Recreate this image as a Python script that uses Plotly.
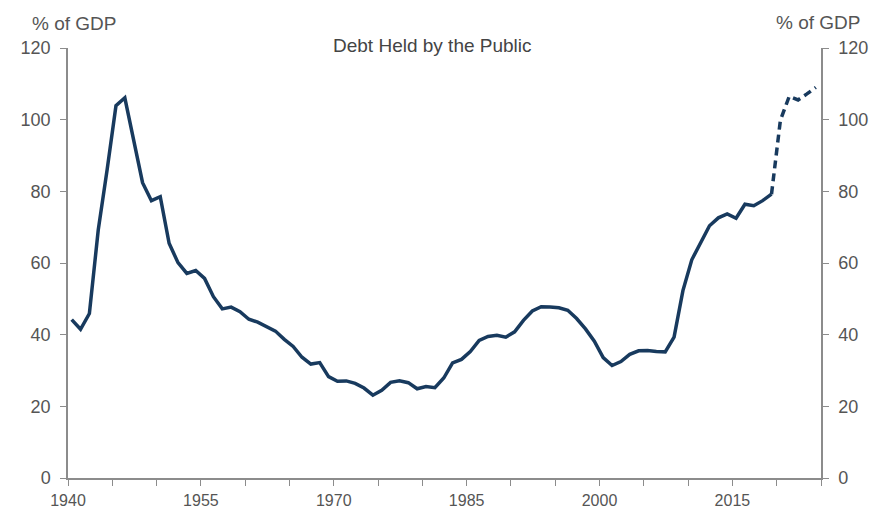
import plotly.graph_objects as go

# Historical debt held by the public, % of GDP (fiscal years)
hist_years = list(range(1940, 2020))
hist_values = [
    44.2, 41.5, 45.9, 69.2, 86.0, 103.9, 106.1, 93.9, 82.4, 77.4,
    78.5, 65.5, 60.1, 57.1, 57.9, 55.7, 50.6, 47.2, 47.7, 46.4,
    44.3, 43.5, 42.3, 41.0, 38.7, 36.7, 33.7, 31.8, 32.2, 28.3,
    27.0, 27.1, 26.4, 25.1, 23.1, 24.5, 26.7, 27.1, 26.6, 24.9,
    25.5, 25.2, 27.9, 32.1, 33.1, 35.3, 38.4, 39.5, 39.8, 39.3,
    40.8, 44.0, 46.6, 47.8, 47.7, 47.5, 46.8, 44.5, 41.6, 38.2,
    33.6, 31.4, 32.5, 34.5, 35.5, 35.6, 35.3, 35.2, 39.3, 52.3,
    60.9, 65.9, 70.4, 72.6, 73.7, 72.5, 76.4, 76.0, 77.4, 79.2,
]
# Projection (dashed)
proj_years = [2019, 2020, 2021, 2022, 2023, 2024]
proj_values = [79.2, 99.8, 106.5, 105.5, 107.2, 109.0]

y_ticks = [0, 20, 40, 60, 80, 100, 120]

LINE = "#183a5e"
AXIS = "#8c8c8c"
TXT = "#555555"
FONT = "Liberation Sans, Arial, sans-serif"


def to_dates(years):
    return [f"{y}-06-01" for y in years]


fig = go.Figure()
fig.add_trace(go.Scatter(
    x=to_dates(hist_years), y=hist_values, mode="lines",
    line=dict(color=LINE, width=3.5), showlegend=False, hoverinfo="skip",
))
fig.add_trace(go.Scatter(
    x=to_dates(proj_years), y=proj_values, mode="lines",
    line=dict(color=LINE, width=3.5, dash="8px,5px"), showlegend=False,
    hoverinfo="skip",
))
fig.add_trace(go.Scatter(
    x=to_dates(proj_years), y=proj_values, mode="lines", yaxis="y2",
    line=dict(color="rgba(0,0,0,0)", width=0), showlegend=False,
    hoverinfo="skip",
))

yaxis_common = dict(
    range=[0, 120], tickvals=y_ticks, showgrid=False, zeroline=False,
    showline=True, linecolor=AXIS, linewidth=1.5,
    ticks="outside", ticklen=6, tickcolor=AXIS, tickwidth=1.2,
    tickfont=dict(family=FONT, size=18, color=TXT), ticklabelstandoff=6,
    automargin=False, fixedrange=True,
)

fig.update_layout(
    width=878, height=511,
    margin=dict(l=60, r=65, t=40, b=41, autoexpand=False),
    paper_bgcolor="white", plot_bgcolor="white",
    xaxis=dict(
        type="date", range=["1940-01-01", "2025-01-01"],
        tick0="1940-01-01", dtick="M180", tickformat="%Y",
        showgrid=False, zeroline=False, showline=True,
        linecolor=AXIS, linewidth=1.5,
        ticks="outside", ticklen=6, tickcolor=AXIS, tickwidth=1.2,
        minor=dict(dtick="M60", tick0="1940-01-01", ticks="outside",
                   ticklen=6, tickcolor=AXIS, tickwidth=1.2, showgrid=False),
        tickfont=dict(family=FONT, size=16, color=TXT), ticklabelstandoff=1,
        automargin=False, fixedrange=True,
    ),
    yaxis=dict(side="left", **yaxis_common),
    yaxis2=dict(side="right", overlaying="y", anchor="x", **yaxis_common),
    annotations=[
        dict(text="Debt Held by the Public", xref="paper", yref="paper",
             x=0.4847, y=1.005, xanchor="center", yanchor="middle",
             showarrow=False, font=dict(family=FONT, size=19, color="#444444")),
        dict(text="% of GDP", xref="paper", yref="paper",
             x=-0.051, y=1.058, xanchor="left", yanchor="middle",
             showarrow=False, font=dict(family=FONT, size=19, color=TXT)),
        dict(text="% of GDP", xref="paper", yref="paper",
             x=1.055, y=1.06, xanchor="right", yanchor="middle",
             showarrow=False, font=dict(family=FONT, size=19, color=TXT)),
    ],
)

fig.write_html("out.html")
